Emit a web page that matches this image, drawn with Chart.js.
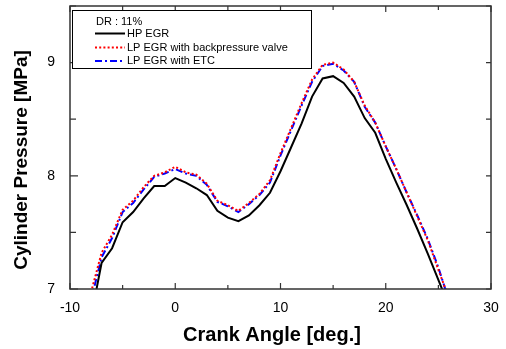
<!DOCTYPE html>
<html>
<head>
<meta charset="utf-8">
<script src="https://cdn.jsdelivr.net/npm/chart.js@4.4.1/dist/chart.umd.min.js"></script>
<style>
html,body{margin:0;padding:0;background:#fff;}
#wrap{width:506px;height:349px;}
</style>
</head>
<body>
<div id="wrap"><canvas id="c" width="506" height="349"></canvas></div>
<script>
const crankAngle = [-8,-7,-6,-5,-4,-3,-2,-1,0,1,2,3,4,5,6,7,8,9,10,11,12,13,14,15,16,17,18,19,20,21,22,23,24,25,26];
const hpEgr = [6.75,7.23,7.36,7.59,7.68,7.80,7.91,7.91,7.98,7.94,7.89,7.83,7.69,7.63,7.60,7.65,7.74,7.85,8.04,8.25,8.46,8.70,8.86,8.88,8.82,8.70,8.51,8.38,8.15,7.94,7.74,7.53,7.31,7.08,6.85];
const lpEgrBackpressure = [6.97,7.32,7.48,7.70,7.78,7.90,8.00,8.03,8.08,8.03,8.01,7.93,7.78,7.74,7.69,7.76,7.84,7.96,8.20,8.42,8.64,8.85,8.98,9.00,8.94,8.83,8.62,8.47,8.26,8.06,7.85,7.64,7.43,7.17,6.92];
const lpEgrEtc = [6.90,7.28,7.45,7.68,7.76,7.88,7.99,8.02,8.06,8.02,8.00,7.92,7.77,7.73,7.68,7.75,7.83,7.94,8.18,8.40,8.62,8.83,8.97,8.99,8.93,8.83,8.61,8.47,8.26,8.06,7.85,7.65,7.44,7.19,6.90];
const seriesLabels = ['HP EGR','LP EGR with backpressure valve','LP EGR with ETC'];
const legendTitle = 'DR : 11%';
const xTitle = 'Crank Angle [deg.]';
const yTitle = 'Cylinder Pressure [MPa]';
const xLabelTicks = [-10,0,10,20,30];
const yLabelTicks = [7,8,9];

const toPts = arr => crankAngle.map((x,i)=>({x:x,y:arr[i]}));

const frameTicks = {
  id:'frameTicks',
  afterDraw(chart){
    const {ctx, chartArea:a, scales:{x,y}} = chart;
    ctx.save();
    ctx.strokeStyle = '#333';
    ctx.lineWidth = 1.5;
    ctx.strokeRect(a.left, a.top, a.right-a.left, a.bottom-a.top);
    ctx.lineWidth = 1.2;
    x.ticks.forEach(t=>{
      const px = x.getPixelForValue(t.value);
      const major = xLabelTicks.includes(t.value);
      const L = major ? 6 : 4;
      ctx.beginPath();
      ctx.moveTo(px, a.bottom); ctx.lineTo(px, a.bottom-L);
      ctx.moveTo(px, a.top); ctx.lineTo(px, a.top+L);
      ctx.stroke();
    });
    y.ticks.forEach(t=>{
      const py = y.getPixelForValue(t.value);
      const major = yLabelTicks.includes(t.value);
      const L = major ? 8 : 6;
      ctx.beginPath();
      ctx.moveTo(a.left, py); ctx.lineTo(a.left+L, py);
      ctx.moveTo(a.right, py); ctx.lineTo(a.right-5, py);
      ctx.stroke();
    });
    // axis titles
    ctx.fillStyle = '#000';
    ctx.font = 'bold 20px "Liberation Sans", Arial, sans-serif';
    ctx.textAlign = 'center';
    ctx.textBaseline = 'middle';
    ctx.fillText(xTitle, 272, 335);
    ctx.save();
    ctx.translate(22, 160);
    ctx.rotate(-Math.PI/2);
    ctx.font = 'bold 19px "Liberation Sans", Arial, sans-serif';
    ctx.fillText(yTitle, 0, 0);
    ctx.restore();
    // legend box
    const bx = 72, by = 10, bw = 239, bh = 58;
    ctx.fillStyle = '#fff';
    ctx.fillRect(bx, by, bw, bh);
    ctx.strokeStyle = '#000';
    ctx.lineWidth = 1;
    ctx.strokeRect(bx+0.5, by+0.5, bw, bh);
    ctx.fillStyle = '#000';
    ctx.font = '11px "Liberation Sans", Arial, sans-serif';
    ctx.textAlign = 'left';
    ctx.fillText(legendTitle, 96, 22);
    const rows = [33.5, 47.5, 61];
    chart.data.datasets.forEach((ds,i)=>{
      const ry = rows[i];
      ctx.save();
      ctx.strokeStyle = ds.borderColor;
      ctx.lineWidth = ds.borderWidth;
      ctx.setLineDash(ds.borderDash || []);
      ctx.beginPath();
      ctx.moveTo(95, ry); ctx.lineTo(125, ry);
      ctx.stroke();
      ctx.restore();
      ctx.fillStyle = '#000';
      ctx.fillText(ds.label, 127, ry);
    });
    ctx.restore();
  }
};

new Chart(document.getElementById('c'), {
  type:'line',
  data:{
    datasets:[
      {label:seriesLabels[0], data:toPts(hpEgr), borderColor:'#000', borderWidth:2, pointRadius:0, tension:0, fill:false},
      {label:seriesLabels[1], data:toPts(lpEgrBackpressure), borderColor:'#ff0000', borderWidth:2, borderDash:[2,2.2], pointRadius:0, tension:0, fill:false},
      {label:seriesLabels[2], data:toPts(lpEgrEtc), borderColor:'#0000ff', borderWidth:2, borderDash:[7,3,2,3], pointRadius:0, tension:0, fill:false}
    ]
  },
  options:{
    responsive:false,
    animation:false,
    devicePixelRatio:1,
    layout:{padding:{left:0,top:6,right:15,bottom:0}},
    plugins:{legend:{display:false}, tooltip:{enabled:false}},
    scales:{
      x:{
        type:'linear', min:-10, max:30,
        afterFit(s){ s.height = 60; s.paddingLeft = 0; s.paddingRight = 0; },
        border:{display:false},
        grid:{display:false, drawTicks:false},
        ticks:{stepSize:5, padding:11, color:'#000', font:{size:14, family:'"Liberation Sans", Arial, sans-serif'},
          autoSkip:false, maxRotation:0,
          callback:v=> xLabelTicks.includes(v) ? String(v) : ''}
      },
      y:{
        type:'linear', min:7, max:9.5,
        afterFit(s){ s.width = 70; s.paddingTop = 0; s.paddingBottom = 0; },
        border:{display:false},
        grid:{display:false, drawTicks:false},
        ticks:{stepSize:0.5, padding:15, color:'#000', font:{size:14, family:'"Liberation Sans", Arial, sans-serif'},
          autoSkip:false,
          callback:v=> yLabelTicks.includes(v) ? String(v) : ''}
      }
    }
  },
  plugins:[frameTicks]
});
</script>
</body>
</html>
